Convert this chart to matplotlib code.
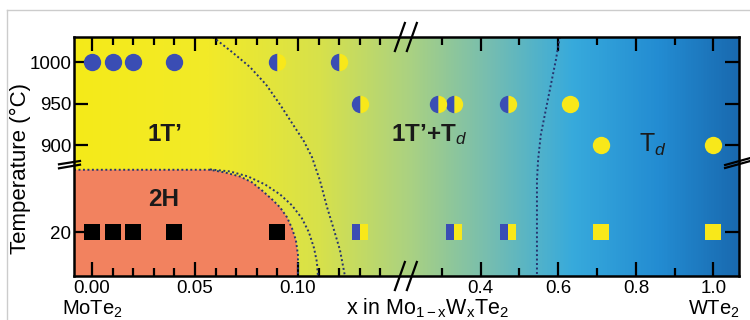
import numpy as np
import matplotlib
matplotlib.use('Agg')
import matplotlib.pyplot as plt
from matplotlib.colors import LinearSegmentedColormap
from matplotlib.lines import Line2D

plt.rcParams['font.family'] = ['Liberation Sans', 'DejaVu Sans']
plt.rcParams['mathtext.fontset'] = 'custom'
plt.rcParams['mathtext.rm'] = 'Liberation Sans'
plt.rcParams['mathtext.it'] = 'Liberation Sans:italic'
plt.rcParams['mathtext.bf'] = 'Liberation Sans:bold'
plt.rcParams['mathtext.default'] = 'regular'

# --- measured samples -------------------------------------------------------
# 1000 C row
x_1000_1t = [0.00, 0.01, 0.02, 0.04]
x_1000_mix = [0.09, 0.12]
# 950 C row
x_950_mix = [0.13, 0.29, 0.33, 0.47]
x_950_td = [0.63]
# 900 C row
x_900_td = [0.71, 1.00]
# 20 C row
x_20_2h = [0.00, 0.01, 0.02, 0.04, 0.09]
x_20_mix = [0.13, 0.33, 0.47]
x_20_td = [0.71, 1.00]

# phase boundaries (x, T)
b2h_x = [-0.0087, 0.0573, 0.0646, 0.0718, 0.0777, 0.0825, 0.0874, 0.0913,
         0.0947, 0.0971, 0.0990, 0.1000, 0.1000]
b2h_t = [77, 77, 74.5, 70.9, 65.5, 58.2, 50, 42.7, 33.6, 23.6, 12.7, -0.9, -20]

b2_x = [0.0573, 0.0670, 0.0757, 0.0840, 0.0913, 0.0971, 0.1019, 0.1053,
        0.1078, 0.1092, 0.1097]
b2_t = [77.3, 75.5, 70.9, 63.6, 54.5, 44.5, 32.7, 20, 5.5, -7.3, -20]

b3_x = [0.0587, 0.0680, 0.0767, 0.0845, 0.0913, 0.0976, 0.1029, 0.1068,
        0.1107, 0.1141, 0.1175, 0.1204, 0.1228]
b3_t = [1030, 1012, 994, 973, 949, 925, 905, 886, 67, 43, 22, 3.6, -20]

b4_x = [0.604, 0.594, 0.581, 0.568, 0.555, 0.548, 0.545, 0.545]
b4_t = [1030, 1003, 973, 943, 913, 883, 67, -20]

xticks_major = [0.00, 0.05, 0.10, 0.4, 0.6, 0.8, 1.0]
xtick_labels = ['0.00', '0.05', '0.10', '0.4', '0.6', '0.8', '1.0']
xticks_minor = [0.01, 0.02, 0.03, 0.04, 0.06, 0.07, 0.08, 0.09, 0.11, 0.12,
                0.13, 0.14, 0.3, 0.5, 0.7, 0.9]
yticks = [20, 900, 950, 1000]

# --- broken scales ----------------------------------------------------------
X0, XB1, XB2 = -0.0087, 0.15, 0.21
S1, S2 = 2060.0, 388.0
U1 = (XB1 - X0) * S1
U2 = U1 + 6.0


def x_fwd(x):
    x = np.asarray(x, float)
    return np.where(x <= XB1, (x - X0) * S1,
                    np.where(x >= XB2, U2 + (x - XB2) * S2,
                             U1 + (x - XB1) * (U2 - U1) / (XB2 - XB1)))


def x_inv(u):
    u = np.asarray(u, float)
    return np.where(u <= U1, u / S1 + X0,
                    np.where(u >= U2, XB2 + (u - U2) / S2,
                             XB1 + (u - U1) * (XB2 - XB1) / (U2 - U1)))


def y_fwd(t):
    t = np.asarray(t, float)
    return np.where(t <= 80, (t + 20) * 1.1,
                    np.where(t >= 876, 111 + (t - 876) * 0.838,
                             110 + (t - 80) / 796.0))


def y_inv(u):
    u = np.asarray(u, float)
    return np.where(u <= 110, u / 1.1 - 20,
                    np.where(u >= 111, 876 + (u - 111) / 0.838,
                             80 + (u - 110) * 796.0))


blue = '#3a4db4'
yellow = '#f8e81a'
salmon = '#f2825f'
dotc = '#27346e'

fig = plt.figure(figsize=(7.5, 3.2), dpi=100)
ax = fig.add_axes([0.0987, 0.1375, 0.8867, 0.7469])
ax.set_xscale('function', functions=(x_fwd, x_inv))
ax.set_yscale('function', functions=(y_fwd, y_inv))

cmap = LinearSegmentedColormap.from_list('bg', [
    (0.0, (245/255, 235/255, 25/255)),
    (0.2, (242/255, 234/255, 40/255)),
    (0.37, (215/255, 225/255, 75/255)),
    (0.5, (172/255, 210/255, 128/255)),
    (0.62, (120/255, 190/255, 175/255)),
    (0.75, (55/255, 170/255, 220/255)),
    (0.88, (35/255, 140/255, 210/255)),
    (1.0, (25/255, 105/255, 175/255))])
grad = np.linspace(0, 1, 512).reshape(1, -1)
ax.imshow(grad, cmap=cmap, extent=[0, 1, 0, 1], transform=ax.transAxes,
          aspect='auto', zorder=0, interpolation='bilinear')

# 2H region
ax.fill(b2h_x + [-0.0087], b2h_t + [-20], color=salmon, lw=0, zorder=1)

dots = dict(color=dotc, lw=1.4, ls=(0, (1, 1.3)), zorder=2)
ax.plot(b2h_x, b2h_t, **dots)
ax.plot(b2_x, b2_t, **dots)
ax.plot(b3_x, b3_t, **dots)
ax.plot(b4_x, b4_t, **dots)

# markers
ms_c, ms_s = 12.5, 12
ax.plot(x_1000_1t, [1000] * len(x_1000_1t), 'o', ms=ms_c, color=blue, mew=0, zorder=3)
ax.plot(x_1000_mix, [1000] * len(x_1000_mix), 'o', ms=ms_c, fillstyle='left',
        markerfacecolor=blue, markerfacecoloralt=yellow, mew=0, ls='none', zorder=3)
ax.plot(x_950_mix, [950] * len(x_950_mix), 'o', ms=ms_c, fillstyle='left',
        markerfacecolor=blue, markerfacecoloralt=yellow, mew=0, ls='none', zorder=3)
ax.plot(x_950_td, [950] * len(x_950_td), 'o', ms=ms_c, color=yellow, mew=0, zorder=3)
ax.plot(x_900_td, [900] * len(x_900_td), 'o', ms=ms_c, color=yellow, mew=0, zorder=3)
ax.plot(x_20_2h, [20] * len(x_20_2h), 's', ms=ms_s, color='black', mew=0, zorder=3)
ax.plot(x_20_mix, [20] * len(x_20_mix), 's', ms=ms_s, fillstyle='left',
        markerfacecolor=blue, markerfacecoloralt=yellow, mew=0, ls='none', zorder=3)
ax.plot(x_20_td, [20] * len(x_20_td), 's', ms=ms_s, color=yellow, mew=0, zorder=3)

ax.set_xlim(X0, XB2 + (665 - U2) / S2)
ax.set_ylim(-20, 1030)

ax.set_xticks(xticks_major)
ax.set_xticklabels(xtick_labels)
ax.set_xticks(xticks_minor, minor=True)
ax.set_yticks(yticks)
ax.set_yticklabels([str(v) for v in yticks])
ax.tick_params(which='both', direction='in', top=True, right=True, width=1.6,
               labelsize=13.5, colors='black')
ax.tick_params(which='major', length=10)
ax.tick_params(which='minor', length=6)
ax.tick_params(axis='x', pad=3)
ax.tick_params(axis='y', pad=2)
for sp in ax.spines.values():
    sp.set_linewidth(1.8)

ax.set_ylabel('Temperature (°C)', fontsize=16)
ax.yaxis.set_label_coords(-0.064, 0.45)

# phase labels
ax.text(0.137, 0.59, '1T’', transform=ax.transAxes, fontsize=17.5, fontweight='bold',
        ha='center', va='center', color='#1a1a1a', zorder=4)
ax.text(0.134, 0.318, '2H', transform=ax.transAxes, fontsize=17.5, fontweight='bold',
        ha='center', va='center', color='#1a1a1a', zorder=4)
ax.text(0.534, 0.59, '1T’+T$_{\\mathit{d}}$', transform=ax.transAxes, fontsize=17.5,
        fontweight='bold', ha='center', va='center', color='#1a1a1a', zorder=4)
ax.text(0.871, 0.548, 'T$_{\\mathit{d}}$', transform=ax.transAxes, fontsize=18,
        ha='center', va='center', color='#1a1a1a', zorder=4)

# axis end labels
bt = ax.get_xaxis_transform()
ax.text(0.0, -0.16, 'MoTe$_2$', transform=bt, fontsize=14.5, ha='center',
        va='baseline')
ax.text(1.0, -0.16, 'WTe$_2$', transform=bt, fontsize=14.5, ha='center',
        va='baseline')
ax.text(0.532, -0.16, 'x in Mo$_{1-x}$W$_x$Te$_2$', transform=ax.transAxes,
        fontsize=15.5, ha='center', va='baseline')

# break marks
brk = dict(color='black', lw=1.6, transform=ax.transAxes, clip_on=False, zorder=5)
for xc in (0.490, 0.508):
    for yc in (0.0, 1.0):
        ax.plot([xc - 0.0075, xc + 0.0075], [yc - 0.0586, yc + 0.0586], **brk)
ax.plot([-0.0226, 0.009], [0.4506, 0.4657], **brk)
ax.plot([-0.0226, 0.009], [0.4674, 0.4812], **brk)
ax.plot([0.979, 1.017], [0.4519, 0.4812], **brk)
ax.plot([0.979, 1.017], [0.4644, 0.4937], **brk)

# light frame of the panel
fig.add_artist(Line2D([7 / 750, 7 / 750], [0, 1 - 10 / 320], color='#cccccc', lw=1))
fig.add_artist(Line2D([7 / 750, 1], [1 - 10 / 320, 1 - 10 / 320], color='#cccccc', lw=1))

fig.savefig('out.png', dpi=100)
